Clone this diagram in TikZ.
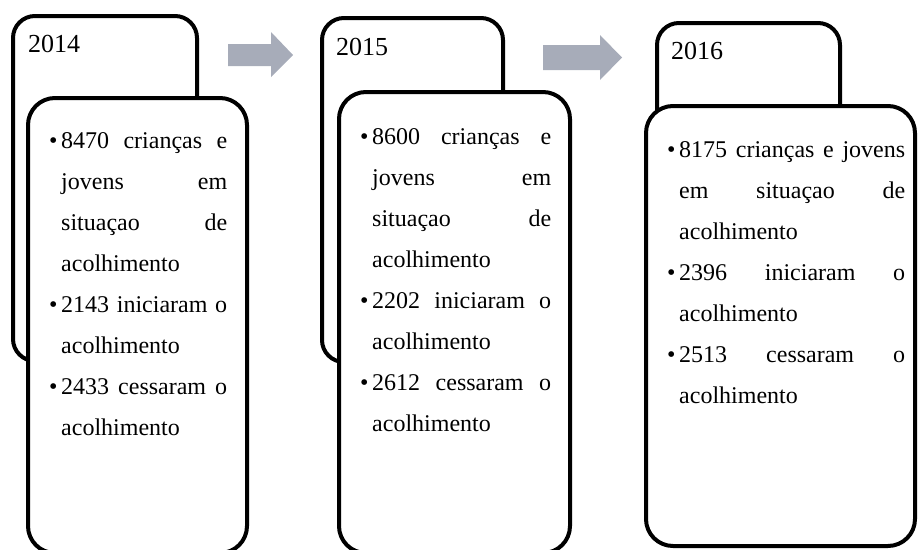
\documentclass[tikz,border=0pt]{standalone}
\usepackage{fontspec}
\setmainfont{Liberation Serif}
\usetikzlibrary{positioning}

\definecolor{arrowgrey}{RGB}{167,172,185}
\newlength{\bulletgap}
\setlength{\bulletgap}{12pt}
\newcommand{\bitem}{\par\hangindent=\bulletgap\hangafter=1\noindent\makebox[\bulletgap][l]{\textbullet}}
\newcommand{\yeartext}[2]{\parbox[t]{#1}{\fontsize{24}{41}\selectfont\tolerance=10000\hbadness=10000 #2}}

\tikzset{
  backbox/.style={draw=black, line width=4pt, rounded corners=22pt, fill=white, inner sep=0pt},
  frontbox/.style={draw=black, line width=4pt, rounded corners=27pt, fill=white, inner sep=0pt},
  yearlabel/.style={anchor=base west, inner sep=0pt, font=\fontsize{26}{30}\selectfont},
  bullettext/.style={anchor=base west, inner sep=0pt},
}

\begin{document}
\begin{tikzpicture}[x=1pt, y=-1pt]
  \useasboundingbox (0,0) rectangle (918,549);

  % 2014
  \node[backbox, minimum width=184, minimum height=345] (back14) at (105,188.5) {};
  \node[frontbox, minimum width=219, minimum height=455] (front14) at (137.5,325.5) {};
  \node[yearlabel] (year14) at (28,52) {2014};
  \node[bullettext] (list14) at (49,148) {\yeartext{178pt}{%
    \bitem 8470 crianças e\linebreak jovens em\linebreak situaçao de\linebreak acolhimento
    \bitem 2143 iniciaram o\linebreak acolhimento
    \bitem 2433 cessaram o\linebreak acolhimento}};

  % 2015
  \node[backbox, minimum width=181, minimum height=344] (back15) at (412.5,190) {};
  \node[frontbox, minimum width=231, minimum height=461] (front15) at (454.5,322.5) {};
  \node[yearlabel] (year15) at (336,55) {2015};
  \node[bullettext] (list15) at (360,144) {\yeartext{191pt}{%
    \bitem 8600 crianças e\linebreak jovens em\linebreak situaçao de\linebreak acolhimento
    \bitem 2202 iniciaram o\linebreak acolhimento
    \bitem 2612 cessaram o\linebreak acolhimento}};

  % 2016
  \node[backbox, minimum width=183, minimum height=337] (back16) at (748.5,191.5) {};
  \node[frontbox, minimum width=269, minimum height=440] (front16) at (780.5,326) {};
  \node[yearlabel] (year16) at (671,59) {2016};
  \node[bullettext] (list16) at (667,157) {\yeartext{238pt}{%
    \bitem 8175 crianças e jovens\linebreak em situaçao de\linebreak acolhimento
    \bitem 2396 iniciaram o\linebreak acolhimento
    \bitem 2513 cessaram o\linebreak acolhimento}};

  % block arrows between the years
  \fill[arrowgrey] (228,44) -- (271,44) -- (271,32) -- (293,55) -- (271,77)
    -- (271,66) -- (228,66) -- cycle;
  \fill[arrowgrey] (543,45) -- (600,45) -- (600,35) -- (622,57.5) -- (600,80)
    -- (600,70) -- (543,70) -- cycle;
\end{tikzpicture}
\end{document}
